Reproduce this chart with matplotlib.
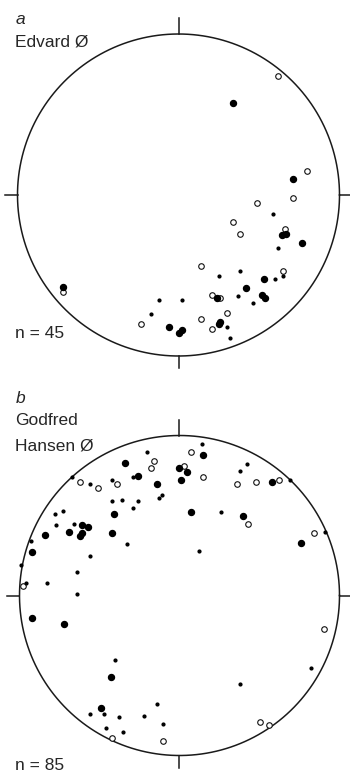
import numpy as np
import matplotlib
matplotlib.use('Agg')
import matplotlib.pyplot as plt

plt.rcParams['font.family'] = ['Liberation Sans', 'DejaVu Sans']

# projected positions on the net (unit circle)
# a - Edvard Ø
a_open_x = [0.62, 0.80, 0.71, 0.49, 0.34, 0.66, 0.38, 0.14, 0.65, -0.72, 0.21, 0.26, 0.30, 0.14, -0.23, 0.21]
a_open_y = [0.74, 0.15, -0.02, -0.05, -0.17, -0.21, -0.24, -0.44, -0.47, -0.60, -0.62, -0.64, -0.73, -0.77, -0.80, -0.83]
a_big_x = [0.34, 0.71, 0.67, 0.64, 0.77, 0.53, 0.42, -0.72, 0.24, 0.52, 0.54, 0.26, 0.25, -0.06, 0.02, 0.00]
a_big_y = [0.57, 0.10, -0.24, -0.25, -0.30, -0.52, -0.58, -0.57, -0.64, -0.62, -0.64, -0.79, -0.80, -0.82, -0.84, -0.86]
a_small_x = [0.59, 0.62, 0.38, 0.65, 0.25, 0.60, 0.37, -0.12, 0.02, 0.46, -0.17, 0.30, 0.32]
a_small_y = [-0.12, -0.33, -0.47, -0.50, -0.50, -0.52, -0.63, -0.65, -0.65, -0.67, -0.74, -0.82, -0.89]

# b - Godfred Hansen Ø
b_open_x = [0.07, -0.16, -0.18, 0.03, 0.15, -0.62, -0.51, -0.39, 0.43, 0.36, 0.48, 0.62, 0.84, -0.98,
            0.90, -0.42, -0.10, 0.50, 0.56]
b_open_y = [0.90, 0.84, 0.80, 0.81, 0.74, 0.71, 0.67, 0.70, 0.45, 0.70, 0.71, 0.72, 0.39, 0.06,
            -0.21, -0.89, -0.91, -0.79, -0.81]
b_big_x = [0.15, -0.34, 0.00, 0.05, 0.01, -0.26, -0.14, -0.41, 0.07, 0.40, 0.58, -0.61, -0.57, -0.69,
           -0.61, -0.62, -0.84, -0.42, 0.76, -0.92, -0.92, -0.72, -0.43, -0.49]
b_big_y = [0.88, 0.83, 0.80, 0.77, 0.72, 0.75, 0.70, 0.51, 0.52, 0.50, 0.71, 0.44, 0.43, 0.40,
           0.39, 0.37, 0.38, 0.39, 0.33, 0.27, -0.14, -0.18, -0.51, -0.70]
b_small_x = [0.14, -0.20, 0.42, 0.38, -0.67, -0.56, -0.42, -0.29, -0.11, -0.13, -0.26, -0.36, -0.42, -0.29,
             0.26, 0.69, -0.73, -0.78, -0.77, -0.66, 0.91, -0.33, -0.93, -0.56, 0.12, -0.64, -0.99,
             -0.83, -0.96, -0.64, -0.40, 0.82, 0.38, -0.14, -0.56, -0.47, -0.38, -0.22, -0.10, -0.46, -0.35]
b_small_y = [0.95, 0.90, 0.82, 0.78, 0.74, 0.70, 0.72, 0.74, 0.63, 0.61, 0.59, 0.60, 0.59, 0.55,
             0.52, 0.72, 0.53, 0.51, 0.44, 0.45, 0.40, 0.32, 0.34, 0.25, 0.28, 0.15, 0.19,
             0.08, 0.08, 0.01, -0.40, -0.45, -0.55, -0.68, -0.74, -0.74, -0.76, -0.75, -0.80, -0.83, -0.85]

W, H = 350, 771
fig = plt.figure(figsize=(W / 100, H / 100), dpi=100)


def net(ax, ox, oy, xs, ys):
    t = np.linspace(0, 2 * np.pi, 400)
    ax.plot(np.cos(t), np.sin(t), color='#1a1a1a', lw=1.1)
    # N, S, E, W ticks
    ax.plot([0, 0], [1, 1 + ox], color='#1a1a1a', lw=1.1)
    ax.plot([0, 0], [-1, -1 - oy], color='#1a1a1a', lw=1.1)
    ax.plot([-1, -1 - oy], [0, 0], color='#1a1a1a', lw=1.1)
    ax.plot([1, 1 + oy], [0, 0], color='#1a1a1a', lw=1.1)
    ax.plot(xs[0], xs[1], 'o', ms=4.0, mfc='white', mec='#111111', mew=0.8, ls='none')
    ax.plot(ys[0], ys[1], 'o', ms=4.3, color='black', ls='none')
    ax.plot(ys[2], ys[3], 'o', ms=2.0, color='black', ls='none')
    ax.axis('off')


# panel a: centre (178.5, 195) px, radius 161 px
cx, cy, R = 178.5, 195, 161
ax1 = fig.add_axes([0, 1 - 385 / H, 1, 385 / H])
net(ax1, 0.1, 0.075, (a_open_x, a_open_y), (a_big_x, a_big_y, a_small_x, a_small_y))
ax1.set_xlim(-cx / R, (W - cx) / R)
ax1.set_ylim((cy - 385) / R, cy / R)

# panel b: centre (179.5, 595.5) px, radius 160 px
cx, cy, R = 179.5, 595.5, 160
ax2 = fig.add_axes([0, 0, 1, (H - 385) / H])
net(ax2, 0.1, 0.075, (b_open_x, b_open_y), (b_big_x, b_big_y, b_small_x, b_small_y))
ax2.set_xlim(-cx / R, (W - cx) / R)
ax2.set_ylim((cy - H) / R, (cy - 385) / R)


def label(x, y, s, **kw):
    fig.text(x / W, 1 - y / H, s, fontsize=12.5, va='center', ha='left', color='#262626', **kw)


label(16, 19, 'a', style='italic')
label(15, 42, 'Edvard Ø')
label(15, 333, 'n = 45')
label(16, 398, 'b', style='italic')
label(15, 421, 'Godfred')
label(15, 446, 'Hansen Ø')
label(15, 765, 'n = 85')

fig.savefig('out.png', dpi=100)
